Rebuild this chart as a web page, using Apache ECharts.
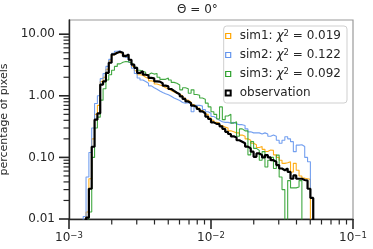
<!DOCTYPE html>
<html><head><meta charset="utf-8">
<script src="https://cdn.jsdelivr.net/npm/echarts@6/dist/echarts.min.js"></script>
<style>html,body{margin:0;padding:0;background:#fff}#c{width:373px;height:249px}</style>
</head><body><div id="c"></div>
<script>
// Histogram binning: log-spaced edges, 50 bins per decade starting at 1e-3
const BIN_LOG_MIN = -3;
const BIN_LOG_STEP = 0.02;
const FIRST_BIN = 5; // the arrays below start at bin #5

const seriesNames = ['sim1', 'sim2', 'sim3', 'observation'];
const chi2 = { sim1: '0.019', sim2: '0.122', sim3: '0.092' };

const sim1 = [
 0, 0.013, 0.045, 0.2, 0.5, 0.7, 1.7, 2.0, 2.7, 3.7,
 4.6, 5.0, 5.0, 4.8, 4.5, 4.3, 3.7, 3.0, 2.55, 2.2,
 2.15, 2.0, 1.9, 1.75, 1.7, 1.55, 1.5, 1.45, 1.35, 1.3,
 1.22, 1.15, 1.1, 1.06, 1.0, 0.92, 0.85, 0.79, 0.72, 0.68,
 0.63, 0.58, 0.54, 0.5, 0.44, 0.4, 0.37, 0.36, 0.33, 0.31,
 0.3, 0.27, 0.26, 0.25, 0.25, 0.23, 0.22, 0.2, 0.19, 0.17,
 0.16, 0.145, 0.15, 0.135, 0.125, 0.132, 0.13, 0.11, 0.1, 0.09,
 0.08, 0.082, 0.085, 0.058, 0.08, 0.062, 0.05, 0.046, 0.045, 0.044,
 0
];
const sim2 = [
 0.011, 0.048, 0.12, 0.3, 0.75, 1.0, 1.9, 2.3, 3.0, 3.9,
 4.9, 5.3, 5.4, 5.0, 4.6, 4.2, 3.5, 2.8, 2.3, 1.95,
 1.8, 1.7, 1.6, 1.45, 1.35, 1.28, 1.2, 1.13, 1.08, 1.04,
 0.98, 0.92, 0.88, 0.84, 0.78, 0.76, 0.77, 0.74, 0.55, 0.7,
 0.7, 0.68, 0.6, 0.55, 0.52, 0.46, 0.43, 0.4, 0.38, 0.37,
 0.37, 0.36, 0.37, 0.35, 0.34, 0.34, 0.33, 0.29, 0.26, 0.25,
 0.25, 0.25, 0.24, 0.25, 0.24, 0.22, 0.23, 0.22, 0.19, 0.17,
 0.19, 0.216, 0.2, 0.18, 0.124, 0.158, 0.16, 0.15, 0.1, 0.085,
 0.022
];
const sim3 = [
 0, 0, 0.013, 0.1, 0.3, 0.45, 0.85, 1.3, 1.8, 2.2,
 2.6, 3.0, 3.3, 3.5, 3.6, 3.55, 3.4, 3.2, 2.9, 2.6,
 2.5, 2.4, 2.2, 2.35, 2.25, 2.3, 2.0, 1.85, 1.85, 1.95,
 1.8, 1.65, 1.6, 1.5, 1.25, 1.35, 1.3, 1.1, 1.25, 1.05,
 1.02, 0.92, 0.88, 0.76, 0.66, 0.55, 0.5, 0.42, 0.66, 0.41,
 0.47, 0.5, 0.36, 0.38, 0.22, 0.29, 0.27, 0.27, 0.11, 0.18,
 0.14, 0.13, 0.09, 0.124, 0.07, 0.09, 0.1, 0.066, 0.109, 0.048,
 0.03, 0, 0.042, 0.032, 0.032, 0.033, 0.042, 0, 0, 0,
 0
];
const observation = [
 0, 0.0105, 0.031, 0.149, 0.41, 0.52, 1.52, 1.72, 2.36, 3.44,
 4.7, 5.0, 5.2, 5.0, 4.4, 4.7, 3.85, 3.2, 2.85, 2.35,
 2.5, 2.2, 2.15, 1.95, 1.92, 1.72, 1.7, 1.6, 1.46, 1.42,
 1.29, 1.2, 1.12, 1.06, 0.98, 0.89, 0.81, 0.76, 0.69, 0.66,
 0.61, 0.56, 0.52, 0.46, 0.42, 0.37, 0.35, 0.35, 0.32, 0.29,
 0.26, 0.24, 0.22, 0.21, 0.19, 0.18, 0.17, 0.15, 0.14, 0.124,
 0.102, 0.116, 0.109, 0.10, 0.109, 0.10, 0.09, 0.085, 0.075, 0.066,
 0.062, 0.066, 0.058, 0.045, 0.051, 0.045, 0.045, 0.043, 0.042, 0.031,
 0.022
];

const X_MIN = 1e-3, X_MAX = 1e-1;
const Y_MIN = 0.01, Y_MAX = 17;
const yMajorTicks = [0.01, 0.1, 1, 10];
const minorMultipliers = [2, 3, 4, 5, 6, 7, 8, 9];
const xDecades = [1e-3, 1e-2];
const yDecades = [0.01, 0.1, 1];

const colors = { sim1: '#FFA500', sim2: '#6495ED', sim3: '#2ca02c', observation: '#000000' };
const FLOOR = 1e-4; // empty bins drop below the axis (as matplotlib clips them)
const FONT = 'DejaVu Sans';
const INK = '#262626';

function edge(i) { return Math.pow(10, BIN_LOG_MIN + BIN_LOG_STEP * (FIRST_BIN + i)); }
function stepPoints(vals) {
  let first = vals.findIndex(v => v > 0);
  let last = vals.length - 1;
  while (last > 0 && !(vals[last] > 0)) last--;
  const pts = [[edge(first - 1), FLOOR]];
  for (let i = first; i <= last; i++) pts.push([edge(i), vals[i] > 0 ? vals[i] : FLOOR]);
  pts.push([edge(last + 1), FLOOR]);
  return pts;
}

const xMinor = [];
xDecades.forEach(d => minorMultipliers.forEach(m => xMinor.push([d * m, Y_MIN])));
const yTicks = [];
yMajorTicks.forEach(v => yTicks.push([X_MIN, v, 1]));
yDecades.forEach(d => minorMultipliers.forEach(m => yTicks.push([X_MIN, d * m, 0])));

const dataBy = { sim1, sim2, sim3, observation };
const lineSeries = seriesNames.map(n => ({
  name: n, type: 'line', step: 'end', symbol: 'none', showSymbol: false,
  data: stepPoints(dataBy[n]), clip: true, silent: true,
  lineStyle: { color: colors[n], width: n === 'observation' ? 2.2 : 1.1, opacity: n === 'observation' ? 1 : 0.9 },
  itemStyle: { color: colors[n] },
  z: n === 'observation' ? 5 : 3
}));

const chart = echarts.init(document.getElementById('c'), null, { renderer: 'canvas' });
chart.setOption({
  animation: false,
  backgroundColor: '#fff',
  title: {
    text: 'Θ = 0°', left: 177, top: 4, padding: 0,
    textStyle: { fontFamily: FONT, fontSize: 12, fontWeight: 'normal', color: INK }
  },
  grid: {
    left: 69, right: 20, top: 20, bottom: 30, containLabel: false, outerBoundsMode: 'none',
    show: true, borderColor: '#9a9a9a', borderWidth: 1.2, backgroundColor: 'transparent'
  },
  legend: {
    orient: 'vertical', right: 26, top: 26, selectedMode: false,
    padding: [3, 6, 3, 1], itemWidth: 13, itemHeight: 5, itemGap: 5,
    backgroundColor: 'rgba(255,255,255,0.85)', borderColor: '#cfcfcf', borderWidth: 1, borderRadius: 3,
    data: seriesNames.map(n => ({
      name: n, icon: 'path://M0,0H10V10H0Z',
      itemStyle: { color: 'transparent', borderColor: colors[n], borderWidth: n === 'observation' ? 2 : 1.2 }
    })),
    symbolKeepAspect: true,
    formatter: n => n === 'observation' ? '{t|observation}' : '{t|' + n + ': }{i|χ}{s|2}{t| = ' + chi2[n] + '}',
    textStyle: {
      fontFamily: FONT, fontSize: 12, color: INK, lineHeight: 14,
      rich: {
        t: { fontFamily: FONT, fontSize: 12, color: INK, lineHeight: 14 },
        i: { fontFamily: FONT, fontSize: 12, fontStyle: 'italic', color: INK, lineHeight: 14 },
        s: { fontFamily: FONT, fontSize: 8.5, color: INK, verticalAlign: 'top', lineHeight: 9 }
      }
    }
  },
  xAxis: {
    type: 'log', logBase: 10, min: X_MIN, max: X_MAX,
    axisLine: { show: true, lineStyle: { color: INK, width: 1.4 } },
    axisTick: { show: true, length: 10, lineStyle: { color: INK, width: 1.6 } },
    splitLine: { show: false },
    axisLabel: {
      margin: 12, color: INK,
      formatter: v => {
        const e = Math.round(Math.log10(v));
        return '{b|10}{s|' + (e < 0 ? '\u2212' : '') + Math.abs(e) + '}';
      },
      rich: {
        b: { fontFamily: FONT, fontSize: 12, color: INK, lineHeight: 14 },
        s: { fontFamily: FONT, fontSize: 8.5, color: INK, verticalAlign: 'top', lineHeight: 9 }
      }
    }
  },
  yAxis: {
    type: 'log', logBase: 10, min: Y_MIN, max: Y_MAX,
    name: 'percentage of pixels', nameLocation: 'middle', nameGap: 51,
    nameTextStyle: { fontFamily: FONT, fontSize: 11, color: INK },
    axisLine: { show: true, lineStyle: { color: INK, width: 1.4 } },
    axisTick: { show: false },
    splitLine: { show: false },
    axisLabel: {
      margin: 14, fontFamily: FONT, fontSize: 12, color: INK,
      formatter: v => {
        const e = Math.log10(v);
        if (Math.abs(e - Math.round(e)) > 1e-6) return '';
        return v.toFixed(2);
      }
    }
  },
  series: lineSeries.concat([
    {
      type: 'custom', name: 'xminor', silent: true, data: xMinor, z: 6,
      renderItem: (params, api) => {
        const p = api.coord([api.value(0), api.value(1)]);
        return { type: 'line', shape: { x1: p[0], y1: p[1], x2: p[0], y2: p[1] + 5.5 }, style: { stroke: INK, lineWidth: 1.2 } };
      }
    },
    {
      type: 'custom', name: 'yticks', silent: true, data: yTicks, z: 6,
      renderItem: (params, api) => {
        const p = api.coord([api.value(0), api.value(1)]);
        const major = api.value(2) === 1;
        const len = major ? 10 : 5.5;
        return { type: 'line', shape: { x1: p[0] - len, y1: p[1], x2: p[0], y2: p[1] }, style: { stroke: INK, lineWidth: major ? 1.6 : 1.2 } };
      }
    }
  ])
});
</script>
</body></html>
